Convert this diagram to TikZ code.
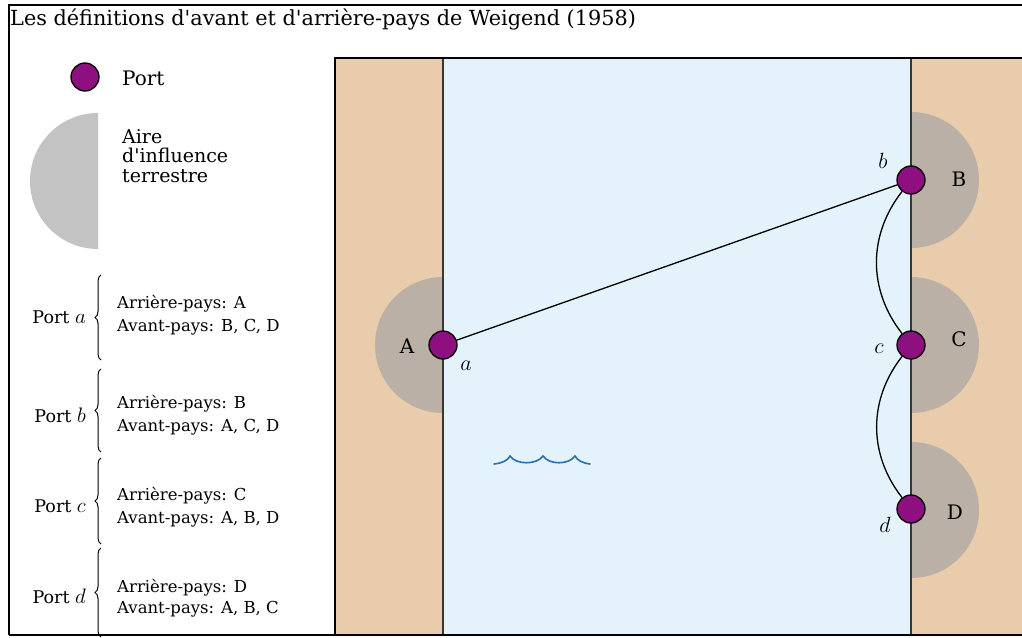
\documentclass[tikz,border=0pt]{standalone}
\usepackage{fix-cm}
\usepackage{fontspec}
\setmainfont{DejaVu Serif}[Ligatures=TeXOff]
\usetikzlibrary{decorations.pathreplacing}
\definecolor{landc}{RGB}{233,204,171}
\definecolor{seac}{RGB}{228,243,251}
\definecolor{portc}{RGB}{142,16,128}
\definecolor{inflc}{RGB}{161,161,163}
\definecolor{wavec}{RGB}{40,112,172}
\definecolor{coastc}{RGB}{55,55,55}
\newcommand{\portletter}[1]{{\fontsize{21}{21}\selectfont$#1$}}
\tikzset{
  portdot/.style={circle,fill=portc,draw=black,line width=1.3pt,minimum size=28pt,inner sep=0pt},
  infl/.style={fill=inflc,fill opacity=0.645},
  legtxt/.style={font=\fontsize{16.5}{23}\selectfont,inner sep=0pt},
  bigtxt/.style={font=\fontsize{19}{19.5}\selectfont,inner sep=0pt},
  landlbl/.style={font=\fontsize{20}{22}\selectfont,inner sep=0pt,anchor=base},
  portlbl/.style={font=\fontsize{22}{24}\selectfont,inner sep=0pt,anchor=base},
  link/.style={line width=1.3pt},
  bracedeco/.style={decorate,decoration={brace,amplitude=6pt},line width=1pt},
}
\begin{document}
\begin{tikzpicture}[x=1pt,y=-1pt]
\useasboundingbox (0,0) rectangle (1022,637);
% map
\fill[landc] (335,58) rectangle (443,635);
\fill[seac] (443,58) rectangle (911,635);
\fill[landc] (911,58) rectangle (1022,635);
% influence areas
\fill[infl] (443,413) arc[start angle=90,end angle=270,radius=68] -- cycle;
\fill[infl] (911,112) arc[start angle=-90,end angle=90,radius=68] -- cycle;
\fill[infl] (911,277) arc[start angle=-90,end angle=90,radius=68] -- cycle;
\fill[infl] (911,442) arc[start angle=-90,end angle=90,radius=68] -- cycle;
% coasts and map border
\draw[coastc,line width=1.6pt] (443,58) -- (443,635);
\draw[coastc,line width=1.6pt] (911,58) -- (911,635);
\draw[line width=1.6pt] (335,635) -- (335,58) -- (1022,58);
% outer frame
\draw[line width=2pt] (9,635) -- (9,5) -- (1022,5);
\draw[line width=2pt] (9,635) -- (1022,635);
% title
\node[font=\fontsize{20.8}{24}\selectfont,anchor=base west,inner sep=0pt] (title) at (10,25) {Les définitions d'avant et d'arrière-pays de Weigend (1958)};
% wave
\draw[wavec,line width=1.6pt,line cap=round]
  (494,464) .. controls (503,463) and (508,460) .. (510,456)
  .. controls (516,465) and (537,465) .. (543,456)
  .. controls (549,465) and (569,465) .. (575,456)
  .. controls (577,460) and (582,463) .. (590,464);
% ports
\node[portdot] (a) at (443,345) {};
\node[portdot] (b) at (911,180) {};
\node[portdot] (c) at (911,345) {};
\node[portdot] (d) at (911,509) {};
% links
\draw[link] (a) -- (b);
\draw[link] (b) to[bend right=38] (c);
\draw[link] (c) to[bend right=38] (d);
% land labels
\node[landlbl] (lA) at (407,353) {A};
\node[landlbl] (lB) at (959,186) {B};
\node[landlbl] (lC) at (959,346) {C};
\node[landlbl] (lD) at (955,519) {D};
% port labels
\node[portlbl] (pa) at (466,370) {$a$};
\node[portlbl] (pb) at (883,168) {$b$};
\node[portlbl] (pc) at (879,353) {$c$};
\node[portlbl] (pd) at (885,532) {$d$};
% legend
\node[portdot] (legport) at (85,77) {};
\node[bigtxt,font=\fontsize{20}{20}\selectfont,anchor=base west] (legporttxt) at (122,85) {Port};
\fill[infl] (98,249) arc[start angle=90,end angle=270,radius=68] -- cycle;
\node[bigtxt,anchor=base west,align=left] (leginfl) at (122,182) {Aire\\d'influence\\terrestre};
% port definitions
\draw[bracedeco] (101,360) -- (101,275);
\draw[bracedeco] (101,452) -- (101,369);
\draw[bracedeco] (101,544) -- (101,458);
\draw[bracedeco] (101,637) -- (101,548);
\node[legtxt,font=\fontsize{17.5}{20}\selectfont,anchor=base east] (dpa) at (86,323) {Port \portletter{a}};
\node[legtxt,font=\fontsize{17.5}{20}\selectfont,anchor=base east] (dpb) at (86,422) {Port \portletter{b}};
\node[legtxt,font=\fontsize{17.5}{20}\selectfont,anchor=base east] (dpc) at (86,512) {Port \portletter{c}};
\node[legtxt,font=\fontsize{17.5}{20}\selectfont,anchor=base east] (dpd) at (86,603) {Port \portletter{d}};
\node[legtxt,anchor=base west] (ta1) at (117,308) {Arrière-pays: A};
\node[legtxt,anchor=base west] (ta2) at (117,331) {Avant-pays: B, C, D};
\node[legtxt,anchor=base west] (tb1) at (117,408) {Arrière-pays: B};
\node[legtxt,anchor=base west] (tb2) at (117,431) {Avant-pays: A, C, D};
\node[legtxt,anchor=base west] (tc1) at (117,500) {Arrière-pays: C};
\node[legtxt,anchor=base west] (tc2) at (117,523) {Avant-pays: A, B, D};
\node[legtxt,anchor=base west] (td1) at (117,592) {Arrière-pays: D};
\node[legtxt,anchor=base west] (td2) at (117,613) {Avant-pays: A, B, C};
\end{tikzpicture}
\end{document}
